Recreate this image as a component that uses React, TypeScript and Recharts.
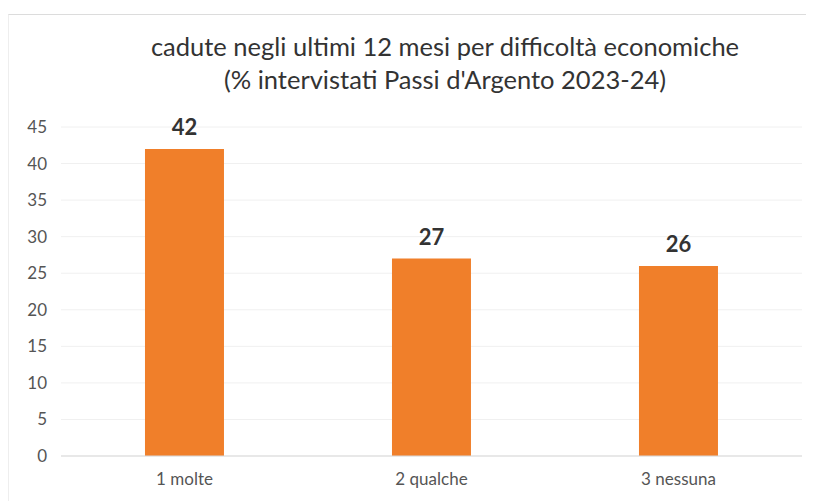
import { BarChart, Bar, XAxis, YAxis, CartesianGrid, LabelList } from "recharts";

const categories = ["1 molte", "2 qualche", "3 nessuna"];
const values = [42, 27, 26];
const yTicks = [0, 5, 10, 15, 20, 25, 30, 35, 40, 45];

const data = categories.map((name, i) => ({ name, value: values[i] }));

const font = "Lato, 'Open Sans', sans-serif";

export default function App() {
	return (
		<div
			style={{
				position: "fixed",
				left: 0,
				top: 0,
				width: 814,
				height: 501,
				background: "#fff",
				fontFamily: font,
			}}
		>
			<div
				style={{
					position: "absolute",
					left: 8,
					top: 14,
					width: 797,
					height: 487,
					borderTop: "1px solid #dcdcdc",
					borderLeft: "1px solid #eeeeee",
				}}
			/>
			<div
				style={{
					position: "absolute",
					left: 0,
					top: 30,
					width: 890,
					textAlign: "center",
					fontSize: 25.5,
					lineHeight: "33px",
					color: "#333",
				}}
			>
				cadute negli ultimi 12 mesi per difficoltà economiche
				<br />
				(% intervistati Passi d'Argento 2023-24)
			</div>
			<div style={{ position: "absolute", left: 0, top: 0 }}>
				<BarChart
					width={814}
					height={501}
					data={data}
					margin={{ top: 127, right: 12, bottom: 15, left: 0 }}
					barCategoryGap="34%"
				>
					<CartesianGrid vertical={false} stroke="#f0f0f0" />
					<XAxis
						dataKey="name"
						height={30}
						tickLine={false}
						axisLine={{ stroke: "#d9d9d9" }}
						tick={{ fill: "#555", fontSize: 17, fontFamily: font }}
						tickMargin={11}
					/>
					<YAxis
						width={61}
						domain={[0, 45]}
						ticks={yTicks}
						axisLine={false}
						tickLine={false}
						tickSize={0}
						tickMargin={14}
						tick={{ fill: "#555", fontSize: 17, fontFamily: font }}
					/>
					<Bar dataKey="value" fill="#F07F2A" isAnimationActive={false}>
						<LabelList
							dataKey="value"
							position="top"
							offset={14}
							style={{ fill: "#333", fontSize: 22, fontWeight: 700, fontFamily: font }}
						/>
					</Bar>
				</BarChart>
			</div>
		</div>
	);
}
